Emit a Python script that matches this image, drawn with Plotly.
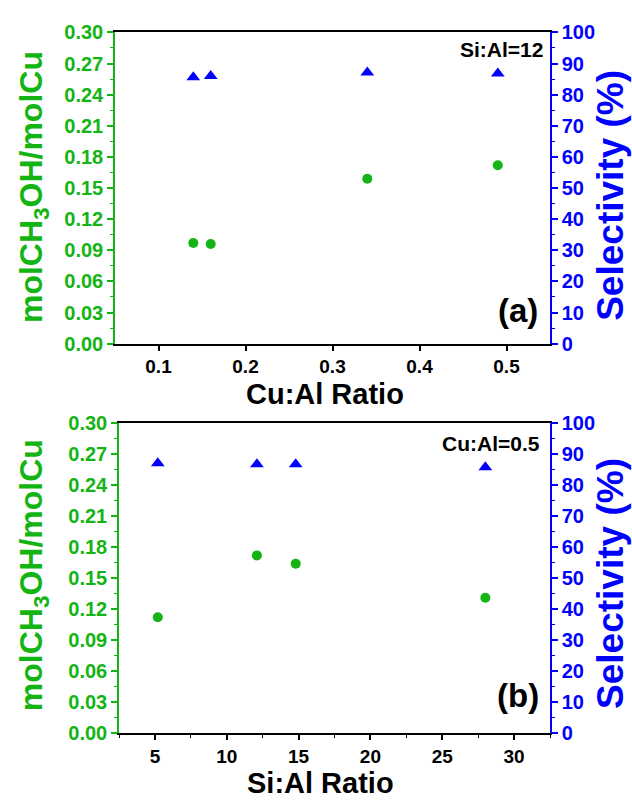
import plotly.graph_objects as go

# ---- data ----
cual_ratio = [0.14, 0.16, 0.34, 0.49]
cual_yield = [0.097, 0.096, 0.159, 0.172]
cual_select = [85.6, 86.0, 87.1, 86.8]

sial_ratio = [5.2, 12.1, 14.8, 28.0]
sial_yield = [0.112, 0.172, 0.164, 0.131]
sial_select = [87.1, 86.8, 86.8, 85.8]

x_title_a = "Cu:Al Ratio"
x_title_b = "Si:Al Ratio"
y_title_left = "molCH<sub>3</sub>OH/molCu"
y_title_right = "Selectivity (%)"
note_a = "Si:Al=12"
note_b = "Cu:Al=0.5"
tag_a = "(a)"
tag_b = "(b)"

GREEN = "#14B414"
BLUE = "#0000FF"
FONT = "Liberation Sans, Arial, sans-serif"
W, H = 632, 806


def px_x(p):
    return p / W


def px_y(p):
    return 1 - p / H


fig = go.Figure()

fig.add_trace(go.Scatter(x=cual_ratio, y=cual_yield, mode="markers",
                         marker=dict(symbol="circle", size=10, color=GREEN),
                         xaxis="x", yaxis="y", showlegend=False))
fig.add_trace(go.Scatter(x=cual_ratio, y=cual_select, mode="markers",
                         marker=dict(symbol="triangle-up", size=12, color=BLUE),
                         xaxis="x", yaxis="y2", showlegend=False))
fig.add_trace(go.Scatter(x=sial_ratio, y=sial_yield, mode="markers",
                         marker=dict(symbol="circle", size=10, color=GREEN),
                         xaxis="x2", yaxis="y3", showlegend=False))
fig.add_trace(go.Scatter(x=sial_ratio, y=sial_select, mode="markers",
                         marker=dict(symbol="triangle-up", size=12, color=BLUE),
                         xaxis="x2", yaxis="y4", showlegend=False))

tickfont_black = dict(family=FONT, size=19, color="black", weight="bold")
tickfont_green = dict(family=FONT, size=20, color=GREEN, weight="bold")
tickfont_blue = dict(family=FONT, size=20, color=BLUE, weight="bold")

xcommon = dict(showline=True, linecolor="black", linewidth=2, mirror=True,
               ticks="outside", ticklen=5, tickwidth=1.5, tickcolor="black",
               showgrid=False, zeroline=False, tickfont=tickfont_black)
yleft = dict(showline=True, linecolor=GREEN, linewidth=1.5, ticks="outside",
             ticklen=6, tickwidth=1.5, tickcolor=GREEN, showgrid=False,
             zeroline=False, tickfont=tickfont_green, range=[0, 0.30],
             tick0=0, dtick=0.03, tickformat=".2f",
             minor=dict(ticks="outside", ticklen=3, dtick=0.015, tickcolor=GREEN, tickwidth=1.2))
yright = dict(showline=True, linecolor=BLUE, linewidth=1.5, ticks="outside",
              ticklen=6, tickwidth=1.5, tickcolor=BLUE, showgrid=False,
              zeroline=False, tickfont=tickfont_blue, range=[0, 100],
              tick0=0, dtick=10, side="right",
              minor=dict(ticks="outside", ticklen=3, dtick=5, tickcolor=BLUE, tickwidth=1.2))

fig.update_layout(
    width=W, height=H,
    margin=dict(l=0, r=0, t=0, b=0),
    paper_bgcolor="white", plot_bgcolor="white",
    xaxis=dict(xcommon, domain=[px_x(115), px_x(550)], range=[0.05, 0.55],
               tick0=0.1, dtick=0.1, anchor="y"),
    yaxis=dict(yleft, domain=[px_y(342), px_y(22)], anchor="x"),
    yaxis2=dict(yright, overlaying="y", anchor="x"),
    xaxis2=dict(xcommon, domain=[px_x(119), px_x(550)], range=[2.5, 32.5],
                tick0=5, dtick=5, anchor="y3",
                minor=dict(ticks="outside", ticklen=3, dtick=2.5, tickcolor="black", tickwidth=1.2)),
    yaxis3=dict(yleft, domain=[px_y(742), px_y(424)], anchor="x2"),
    yaxis4=dict(yright, overlaying="y3", anchor="x2"),
)

title_font = dict(family=FONT, size=29, color="black", weight="bold")
ann = []
# x-axis titles
ann.append(dict(text=x_title_a, x=px_x(325), y=px_y(394), xref="paper", yref="paper",
                showarrow=False, font=title_font, xanchor="center", yanchor="middle",
                borderpad=0))
ann.append(dict(text=x_title_b, x=px_x(320), y=px_y(794), xref="paper", yref="paper",
                showarrow=False, font=title_font, xanchor="center", yanchor="middle",
                borderpad=0))
# left y titles
for yc in (181, 580):
    ann.append(dict(text=y_title_left, x=px_x(33), y=px_y(yc), xref="paper", yref="paper",
                    showarrow=False, textangle=-90,
                    font=dict(family=FONT, size=32, color=GREEN, weight="bold"),
                    xanchor="center", yanchor="middle"))
# right y titles
for yc in (190, 589):
    ann.append(dict(text=y_title_right, x=px_x(611), y=px_y(yc), xref="paper", yref="paper",
                    showarrow=False, textangle=-90,
                    font=dict(family=FONT, size=37, color=BLUE, weight="bold"),
                    xanchor="center", yanchor="middle"))
# notes
note_font = dict(family=FONT, size=21, color="black", weight="bold")
tag_font = dict(family=FONT, size=33, color="black", weight="bold")
ann.append(dict(text=note_a, x=px_x(545), y=px_y(40), xref="paper", yref="paper",
                showarrow=False, font=note_font, xanchor="right", yanchor="middle"))
ann.append(dict(text=note_b, x=px_x(542), y=px_y(445), xref="paper", yref="paper",
                showarrow=False, font=note_font, xanchor="right", yanchor="middle"))
ann.append(dict(text=tag_a, x=px_x(540), y=px_y(308), xref="paper", yref="paper",
                showarrow=False, font=tag_font, xanchor="right", yanchor="middle"))
ann.append(dict(text=tag_b, x=px_x(541), y=px_y(704), xref="paper", yref="paper",
                showarrow=False, font=tag_font, xanchor="right", yanchor="middle"))
fig.update_layout(annotations=ann)

fig.write_html("out.html")
